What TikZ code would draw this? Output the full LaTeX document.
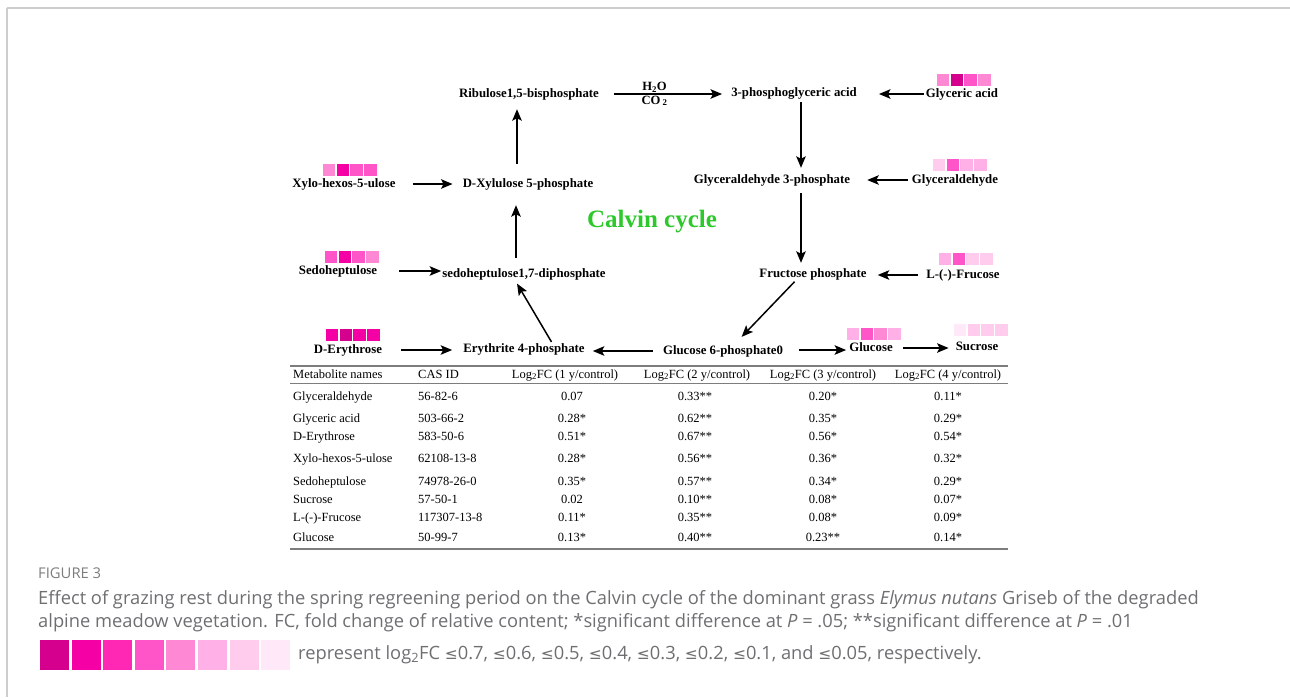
\documentclass[tikz,border=0pt]{standalone}
\usepackage{fontspec}
\setmainfont{Liberation Serif}
\newfontfamily\capfont{Open Sans}
\newfontfamily\symfont{DejaVu Sans}
\usetikzlibrary{arrows.meta}
\definecolor{hA}{RGB}{214,0,143}
\definecolor{hB}{RGB}{245,0,165}
\definecolor{hC}{RGB}{255,40,180}
\definecolor{hD}{RGB}{255,85,200}
\definecolor{hE}{RGB}{255,136,213}
\definecolor{hF}{RGB}{255,176,230}
\definecolor{hG}{RGB}{255,204,238}
\definecolor{hH}{RGB}{255,232,248}
\definecolor{calvingreen}{RGB}{44,200,44}
\definecolor{capgray}{RGB}{110,111,113}
\definecolor{figgray}{RGB}{125,125,125}
\definecolor{rulegray}{RGB}{125,125,125}
\definecolor{framegray}{RGB}{205,205,205}
\newcommand{\heatsq}[6]{%
  \fill[#3] (#1,#2) rectangle ++(12.4,12.4);
  \fill[#4] (#1+13.7,#2) rectangle ++(12.4,12.4);
  \fill[#5] (#1+27.4,#2) rectangle ++(12.4,12.4);
  \fill[#6] (#1+41.1,#2) rectangle ++(12.4,12.4);}
\newcommand{\leqs}{{\symfont\fontsize{15.5}{18}\selectfont ≤}}
\begin{document}
\begin{tikzpicture}[x=1pt,y=-1pt,
  lbl/.style={font=\fontsize{12.8}{14}\selectfont\bfseries, inner sep=0pt, text height=9pt, text depth=3pt},
  small/.style={font=\fontsize{12.6}{14}\selectfont\bfseries, inner sep=0pt},
  arr/.style={line width=1.5pt, -{Stealth[length=11.5pt,width=9.5pt,inset=2.5pt]}},
  tbl/.style={font=\fontsize{12.5}{14}\selectfont, inner sep=0pt, text height=9pt, text depth=3pt},
  trule/.style={rulegray, line width=1.1pt},
  captext/.style={font=\capfont\fontsize{18.3}{22}\selectfont, text=capgray, inner sep=0pt}]
\useasboundingbox (0,0) rectangle (1290,697);
% frame
\draw[framegray, line width=1.6pt] (7,8) -- (1290,8);
\draw[framegray, line width=1.4pt] (7,8) -- (7,697);

% pathway nodes
\node[lbl] (rib) at (529,94) {Ribulose1,5-bisphosphate};
\node[lbl] (pga) at (794,93) {3-phosphoglyceric acid};
\node[lbl] (gla) at (962,94) {Glyceric acid};
\node[lbl] (g3p) at (772,180) {Glyceraldehyde 3-phosphate};
\node[lbl] (glyd) at (955,180) {Glyceraldehyde};
\node[lbl] (fru) at (813,274) {Fructose phosphate};
\node[lbl] (lfru) at (963,275) {L-(-)-Frucose};
\node[lbl] (g6p) at (723,351) {Glucose 6-phosphate0};
\node[lbl] (glc) at (871,348) {Glucose};
\node[lbl] (suc) at (977,347) {Sucrose};
\node[lbl] (e4p) at (524,349) {Erythrite 4-phosphate};
\node[lbl] (der) at (348,350) {D-Erythrose};
\node[lbl] (sbp) at (524,274) {sedoheptulose1,7-diphosphate};
\node[lbl] (sed) at (338,271) {Sedoheptulose};
\node[lbl] (xu5p) at (528,184) {D-Xylulose 5-phosphate};
\node[lbl] (xylo) at (344,184) {Xylo-hexos-5-ulose};
\node[font=\fontsize{25}{28}\selectfont\bfseries, text=calvingreen, inner sep=0pt] (calvin) at (652,222) {Calvin cycle};

% connectors
\draw[arr, shorten <=15pt, shorten >=9pt] (rib.east) -- (rib.east -| pga.west)
  node[small, pos=0.42, above=1pt] (h2o) {H\textsubscript{2}O}
  node[small, pos=0.42, below=1pt] (co2) {CO\,\textsubscript{2}};
\draw[arr, shorten <=2pt, shorten >=22pt] (gla.west) -- (gla.west -| pga.east);
\draw[arr, shorten <=3pt, shorten >=6pt] ([xshift=7pt]pga.south) -- ([xshift=7pt]pga.south |- g3p.north);
\draw[arr, shorten <=4pt, shorten >=17pt] (glyd.west) -- (glyd.west -| g3p.east);
\draw[arr, shorten <=7pt, shorten >=5pt] ([xshift=29pt]g3p.south) -- ([xshift=29pt]g3p.south |- fru.north);
\draw[arr, shorten <=8pt, shorten >=11pt] (lfru.west) -- (lfru.west -| fru.east);
\draw[arr, shorten <=2pt, shorten >=11pt] ([xshift=-17pt]fru.south) -- ([xshift=11pt]g6p.north);
\draw[arr, shorten <=10pt, shorten >=8pt] (g6p.west) -- (g6p.west -| e4p.east);
\draw[arr, shorten <=16pt, shorten >=3pt] ([yshift=1pt]g6p.east) -- ([yshift=1pt]g6p.east -| glc.west);
\draw[arr, shorten <=10pt, shorten >=7pt] (glc.east) -- (glc.east -| suc.west);
\draw[arr, shorten <=19pt, shorten >=11pt] (der.east) -- (der.east -| e4p.west);
\draw[arr, shorten <=1pt, shorten >=4pt] ([xshift=28pt]e4p.north) -- ([xshift=-9pt]sbp.south);
\draw[arr, shorten <=22pt, shorten >=1pt] (sed.east) -- (sed.east -| sbp.west);
\draw[arr, shorten <=10pt, shorten >=15pt] ([xshift=-8pt]sbp.north) -- ([xshift=-8pt]sbp.north |- xu5p.south);
\draw[arr, shorten <=17pt, shorten >=10pt] (xylo.east) -- (xylo.east -| xu5p.west);
\draw[arr, shorten <=14pt, shorten >=9pt] ([xshift=-11pt]xu5p.north) -- ([xshift=-11pt]xu5p.north |- rib.south);

% heat maps
\heatsq{937}{74}{hE}{hA}{hD}{hE}
\heatsq{933}{159}{hG}{hD}{hF}{hF}
\heatsq{939}{253}{hF}{hD}{hG}{hG}
\heatsq{323}{164}{hE}{hB}{hD}{hD}
\heatsq{325}{251}{hD}{hB}{hD}{hE}
\heatsq{326}{329}{hB}{hA}{hB}{hB}
\heatsq{847}{328}{hF}{hD}{hE}{hF}
\heatsq{954}{324}{hH}{hG}{hG}{hG}

% table
\draw[trule] (290,366) -- (1008,366);
\draw[trule] (290,383.5) -- (1008,383.5);
\draw[trule] (290,549) -- (1008,549);
\node[tbl, anchor=west] (hn) at (293,375) {Metabolite names};
\node[tbl, anchor=west] (hc) at (418,375) {CAS ID};
\node[tbl] (h1) at (565,375) {Log\textsubscript{2}FC (1 y/control)};
\node[tbl] (h2) at (697,375) {Log\textsubscript{2}FC (2 y/control)};
\node[tbl] (h3) at (823,375) {Log\textsubscript{2}FC (3 y/control)};
\node[tbl] (h4) at (948,375) {Log\textsubscript{2}FC (4 y/control)};
\foreach \y/\n/\c/\va/\vb/\vc/\vd [count=\i] in {
  397/Glyceraldehyde/56-82-6/0.07/0.33**/0.20*/0.11*,
  419/Glyceric acid/503-66-2/0.28*/0.62**/0.35*/0.29*,
  437/D-Erythrose/583-50-6/0.51*/0.67**/0.56*/0.54*,
  459/Xylo-hexos-5-ulose/62108-13-8/0.28*/0.56**/0.36*/0.32*,
  482/Sedoheptulose/74978-26-0/0.35*/0.57**/0.34*/0.29*,
  500/Sucrose/57-50-1/0.02/0.10**/0.08*/0.07*,
  518/{L-(-)-Frucose}/117307-13-8/0.11*/0.35**/0.08*/0.09*,
  538/Glucose/50-99-7/0.13*/0.40**/0.23**/0.14*}{
  \node[tbl, anchor=west] (n\i) at (293,\y) {\n};
  \node[tbl, anchor=west] (c\i) at (418,\y) {\c};
  \node[tbl] (a\i) at (572,\y) {\va};
  \node[tbl] (b\i) at (695,\y) {\vb};
  \node[tbl] (d\i) at (823,\y) {\vc};
  \node[tbl] (e\i) at (948,\y) {\vd};
}

% caption
\node[font=\capfont\fontsize{14.8}{17}\selectfont, text=figgray, inner sep=0pt, anchor=base west] (fig) at (38,578) {FIGURE 3};
\node[captext, anchor=base west] (cap1) at (38,604) {Effect of grazing rest during the spring regreening period on the Calvin cycle of the dominant grass \textit{Elymus nutans} Griseb of the degraded};
\node[captext, anchor=base west] (cap2) at (38,627) {alpine meadow vegetation. FC, fold change of relative content; *significant difference at \textit{P} = .05; **significant difference at \textit{P} = .01};
\foreach \c [count=\k from 0] in {hA,hB,hC,hD,hE,hF,hG,hH}{
  \fill[\c] (40+\k*31.6,640) rectangle ++(29,30);
}
\node[captext, anchor=base west] (leg) at (298,659) {represent log\textsubscript{2}FC \leqs0.7, \leqs0.6, \leqs0.5, \leqs0.4, \leqs0.3, \leqs0.2, \leqs0.1, and \leqs0.05, respectively.};
\end{tikzpicture}
\end{document}
